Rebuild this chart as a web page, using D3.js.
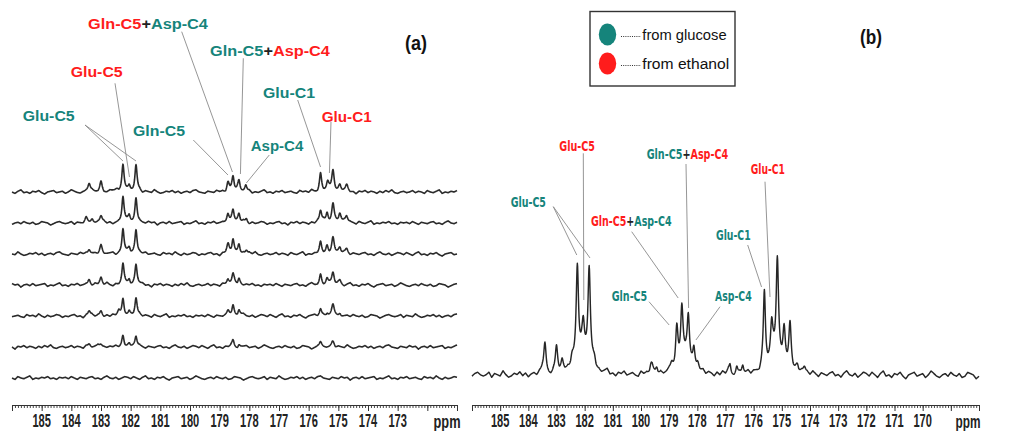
<!DOCTYPE html>
<html><head><meta charset="utf-8">
<script src="https://cdn.jsdelivr.net/npm/d3@7"></script>
<style>
html,body{margin:0;padding:0;background:#fff;}
svg{display:block;}
</style></head>
<body>
<svg id="chart" width="1013" height="431"></svg>
<script>
// ---------------- DATA ----------------
const tickLabelsA = [185,184,183,182,181,180,179,178,177,176,175,174,173];
const tickLabelsB = [185,184,183,182,181,180,179,178,177,176,175,174,173,172,171,170];
const domainA = [186, 171];
const domainB = [186, 168];

// Panel (a): stacked spectra (top to bottom), peaks = [ppm, height, half-width]
const traceNames = ["t1","t2","t3","t4","t5","t6","t7"];
const peaksA1 = [[183.4,9,.05],[183.0,10,.05],[182.45,3,.08],[182.26,27,.045],[182.05,5,.04],[181.82,27,.045],
  [178.72,10,.05],[178.55,15,.045],[178.35,11,.045],[178.12,6,.04],
  [175.6,18,.045],[175.36,9,.05],[175.18,21,.05],[174.95,7,.05],[174.72,6,.05]];
const peaksA2 = [[183.5,4,.05],[183.3,5,.05],[183.0,7,.05],[182.26,26,.045],[182.05,6,.04],[181.82,26,.045],
  [178.72,10,.05],[178.55,12,.045],[178.35,9,.045],[178.1,4,.04],
  [175.6,12,.045],[175.38,10,.045],[175.18,19,.05],[174.95,9,.05],[174.72,7,.05]];
const peaksA3 = [[183.4,6,.05],[183.0,8,.05],[182.26,25,.045],[182.05,5,.04],[181.82,25,.045],
  [178.72,9,.05],[178.55,14,.045],[178.35,10,.045],[178.1,4,.04],
  [175.6,11,.045],[175.38,8,.045],[175.18,16,.05],[174.95,6,.05],[174.72,5,.05]];
const peaksA4 = [[183.4,6,.05],[183.0,7,.05],[182.26,21,.045],[182.05,5,.04],[181.82,21,.045],
  [178.72,6,.05],[178.55,10,.045],[178.35,7,.045],
  [175.6,10,.045],[175.38,6,.045],[175.18,12,.05],[174.95,4,.05]];
const peaksA5 = [[183.4,5,.05],[183.0,5,.05],[182.4,3,.05],[182.26,18,.045],[182.05,4,.04],[181.82,18,.045],
  [178.72,4,.05],[178.55,11,.045],[178.35,6,.045],
  [175.6,7,.045],[175.38,3,.045],[175.18,10,.05],[174.95,3,.05]];
const peaksA6 = [[183.4,3,.05],[183.0,4,.05],[182.26,12,.045],[182.05,3,.04],[181.82,11,.045],
  [178.55,7,.045],[178.35,3,.04],[175.6,4,.05],[175.18,5,.06]];
const peaksA7 = [];

// Panel (b): single spectrum
const peaksB = [[183.41,31,.05],[183.0,27,.05],[182.8,9,.05],[182.45,12,.07],[182.05,20,.25],
  [182.26,95,.05],[182.05,28,.05],[181.84,93,.05],[181.65,8,.06],
  [179.64,9,.06],[179.44,7,.05],[178.91,5,.05],[178.45,14,.25],
  [178.73,41,.05],[178.55,54,.05],[178.32,47,.05],[178.12,23,.05],[177.98,5,.05],
  [176.84,9,.04],[176.6,7,.04],[176.39,9,.04],[175.2,15,.3],
  [175.62,77,.045],[175.36,35,.05],[175.16,101,.05],[174.92,35,.05],[174.71,44,.05],
  [174.45,8,.06],[174.2,6,.05]];

// Hand-typed baseline noise (one value per 0.1 ppm)
const noise = [1,-1,2,0,-2,1,3,-1,0,-2,1,0,2,-1,-3,0,1,2,-1,0,1,-2,0,3,1,-1,-2,0,1,-1,
  2,0,-1,1,-2,-1,2,1,0,-3,-1,1,2,0,-1,0,2,-2,1,0,-1,3,0,-2,-1,1,0,2,-1,1,
  -2,0,1,-1,2,3,0,-1,-2,1,0,-1,2,0,1,-3,0,1,-1,2,-1,0,1,2,-2,0,-1,1,3,-1,
  0,-2,1,0,2,-1,0,1,-1,-2,2,0,1,-1,3,0,-2,1,-1,0,2,1,-2,0,-1,1,2,-1,0,-3,
  1,0,2,-1,1,0,-2,1,-1,2,0,3,-1,-2,0,1,-1,0,2,-1,1,0,-2,2,0,-1,1,3,-2,0,
  -1,1,0,2,-1,0,-2,1,0,1,-1,2,0,-2,1,0,-1,1,2,-1,0,-2,1,3,0,-1,1,-2,0,2];

// Annotations
const teal = "#15847b", red = "#ff1c1c";
const labelsA = [
  {parts:[["Gln-C5",red],["+","#222"],["Asp-C4",teal]], x:88, y:22.7, w:120, from:[181.7,31.7], to:[[178.57,20]]},
  {parts:[["Gln-C5",teal],["+","#222"],["Asp-C4",red]], x:210, y:50, w:120, from:[243.3,58.3], to:[[178.3,18]]},
  {parts:[["Glu-C5",red]], x:70.7, y:71, w:52, from:[115,83.3], to:[[182.04,15]]},
  {parts:[["Glu-C1",teal]], x:263, y:91.7, w:52, from:[297.7,100], to:[[175.6,25]]},
  {parts:[["Glu-C1",red]], x:321.7, y:116, w:50, from:[331,121.7], to:[[175.3,19]]},
  {parts:[["Glu-C5",teal]], x:22.7, y:115, w:52, from:[85,125], to:[[182.26,31],[181.82,31]]},
  {parts:[["Gln-C5",teal]], x:133, y:130, w:52, from:[193.3,140], to:[[178.72,17]]},
  {parts:[["Asp-C4",teal]], x:250.7, y:145, w:52.6, from:[269.3,155], to:[[178.1,9]]}
];
const labelsB = [
  {parts:[["Glu-C5",red]], x:559.3, y:145, w:35.7, from:[583.3,153.3], to:[[182.03,75]]},
  {parts:[["Gln-C5",teal],["+","#222"],["Asp-C4",red]], x:646.7, y:153.3, w:81.6, from:[686,164], to:[[178.31,67]]},
  {parts:[["Glu-C1",red]], x:750.7, y:169.3, w:34.3, from:[765,181.7], to:[[175.42,78]]},
  {parts:[["Glu-C5",teal]], x:510.7, y:201.7, w:35.3, from:[553.3,206.7], to:[[182.28,120],[181.81,117]]},
  {parts:[["Gln-C5",red],["+","#222"],["Asp-C4",teal]], x:591, y:220, w:80.7, from:[631.7,231.7], to:[[178.68,77]]},
  {parts:[["Glu-C1",teal]], x:716, y:235, w:34.7, from:[747.7,245], to:[[175.72,88]]},
  {parts:[["Gln-C5",teal]], x:611.7, y:295.7, w:35.6, from:[649,301.7], to:[[179.0,50]]},
  {parts:[["Asp-C4",teal]], x:715, y:296.7, w:36.7, from:[720,306.7], to:[[178.05,35]]}
];
const legendItems = [["from glucose", teal], ["from ethanol", red]];

// ---------------- DRAW ----------------
const svg = d3.select("#chart");
const FONT = "'Liberation Sans', Arial, sans-serif";
const NARROW = "'Liberation Sans Narrow', 'DejaVu Sans Condensed', 'Liberation Sans', sans-serif";

const xA = d3.scaleLinear().domain(domainA).range([12, 457]);
const xB = d3.scaleLinear().domain(domainB).range([472, 979]);
const offA = d3.scalePoint().domain(traceNames).range([192, 378]);
const yA = d3.scaleLinear().domain([0, 30]).range([0, -30]);
const yB = d3.scaleLinear().domain([0, 120]).range([375, 255]);

function spectrum(peaks, dom, noiseAmp, noiseOff) {
  const pts = [];
  for (let p = dom[0]; p >= dom[1] - 1e-9; p -= 0.01) {
    let v = 0;
    for (const [c, h, w] of peaks) { const d = (p - c) / w; v += h / (1 + d * d); }
    const t = (dom[0] - p) / 0.1;
    const i = Math.floor(t), f = t - i;
    const n0 = noise[(i + noiseOff) % noise.length], n1 = noise[(i + 1 + noiseOff) % noise.length];
    v += noiseAmp * (n0 + (n1 - n0) * f);
    pts.push([p, v]);
  }
  return pts;
}

// Fit a text node to a given width by horizontal scaling
function fitText(t, x, y, w, anchorMiddle) {
  const bw = t.node().getComputedTextLength();
  const sx = w / bw;
  t.attr("x", 0).attr("y", 0).attr("transform", `translate(${x},${y}) scale(${sx},1)`);
  if (anchorMiddle) t.attr("text-anchor", "middle");
}

// Panel (a) traces
const allA = [peaksA1, peaksA2, peaksA3, peaksA4, peaksA5, peaksA6, peaksA7];
allA.forEach((pk, k) => {
  const pts = spectrum(pk, domainA, 0.7, k * 23 + 3);
  const base = offA(traceNames[k]);
  const line = d3.line().x(d => xA(d[0])).y(d => base + yA(d[1]));
  svg.append("path").attr("d", line(pts)).attr("fill", "none")
    .attr("stroke", "#2a2a2a").attr("stroke-width", 1.6).attr("stroke-linejoin", "round");
});

// Panel (b) trace
{
  const pts = spectrum(peaksB, domainB, 1.3, 40);
  const line = d3.line().x(d => xB(d[0])).y(d => yB(d[1]));
  svg.append("path").attr("d", line(pts)).attr("fill", "none")
    .attr("stroke", "#262626").attr("stroke-width", 1.45).attr("stroke-linejoin", "round");
}

// Axes
function drawAxis(x, dom, labels, yPos, ppmX, ppmW) {
  const g = svg.append("g").attr("transform", `translate(0,${yPos})`);
  const minor = d3.range(Math.round(dom[1]*10), Math.round(dom[0]*10) + 1).map(v => v / 10);
  g.append("g").call(d3.axisBottom(x).tickValues(minor).tickSize(3).tickSizeOuter(6).tickFormat(""))
    .call(s => s.selectAll("path,line").attr("stroke", "#333").attr("stroke-width", 0.9));
  const majors = d3.range(Math.ceil(dom[1]), Math.floor(dom[0]) + 1);
  g.append("g").call(d3.axisBottom(x).tickValues(majors).tickSize(6).tickSizeOuter(6).tickFormat(""))
    .call(s => s.selectAll("path,line").attr("stroke", "#333").attr("stroke-width", 1));
  labels.forEach(d => {
    const t = g.append("text").attr("dominant-baseline", "central")
      .attr("font-family", FONT).attr("font-size", 18).attr("font-weight", "bold")
      .attr("fill", "#222").text(d);
    fitText(t, x(d), 15.5, 18.5, true);
  });
  const tp = g.append("text").attr("dominant-baseline", "central")
    .attr("font-family", FONT).attr("font-size", 18).attr("font-weight", "bold")
    .attr("fill", "#222").text("ppm");
  fitText(tp, ppmX, 16.5, ppmW, true);
}
drawAxis(xA, domainA, tickLabelsA, 405, 447, 27);
drawAxis(xB, domainB, tickLabelsB, 405, 968, 25);

function drawLabels(labels, xs, ysc, size, family) {
  labels.forEach(L => {
    L.to.forEach(([p, h]) => {
      svg.append("line").attr("x1", L.from[0]).attr("y1", L.from[1])
        .attr("x2", xs(p)).attr("y2", ysc(h))
        .attr("stroke", "#8a8a8a").attr("stroke-width", 0.9);
    });
    const t = svg.append("text").attr("font-family", family).attr("font-size", size)
      .attr("font-weight", "bold").attr("dominant-baseline", "central");
    L.parts.forEach(([s, c]) => {
      t.append("tspan").attr("fill", c).text(s);
    });
    fitText(t, L.x, L.y, L.w);
  });
}
drawLabels(labelsA, xA, h => offA("t1") + yA(h), 15.5, FONT);
drawLabels(labelsB, xB, yB, 14, NARROW);

// Panel titles
const ta = svg.append("text").attr("font-family", FONT).attr("font-size", 21).attr("font-weight", "bold")
  .attr("dominant-baseline", "central").attr("fill", "#111").text("(a)");
fitText(ta, 405, 42, 22);
const tb = svg.append("text").attr("font-family", FONT).attr("font-size", 21).attr("font-weight", "bold")
  .attr("dominant-baseline", "central").attr("fill", "#111").text("(b)");
fitText(tb, 860, 37, 22);

// Legend
svg.append("rect").attr("x", 590).attr("y", 11.5).attr("width", 145).attr("height", 74.5)
  .attr("fill", "#fff").attr("stroke", "#333").attr("stroke-width", 1.4);
const legY = d3.scalePoint().domain(legendItems.map(d => d[0])).range([34.5, 63.5]);
legendItems.forEach(([txt, col], i) => {
  const y = legY(txt);
  svg.append("ellipse").attr("cx", 607.5).attr("cy", y).attr("rx", 8.7).attr("ry", 11).attr("fill", col);
  svg.append("line").attr("x1", 621).attr("x2", 641).attr("y1", y + 2).attr("y2", y + 2)
    .attr("stroke", "#333").attr("stroke-width", 1).attr("stroke-dasharray", "1,1.2");
  const t = svg.append("text").attr("font-family", FONT).attr("font-size", 15)
    .attr("dominant-baseline", "central").attr("fill", "#111").text(txt);
  fitText(t, 642.3, y, i === 0 ? 84.4 : 87);
});
</script>
</body></html>
